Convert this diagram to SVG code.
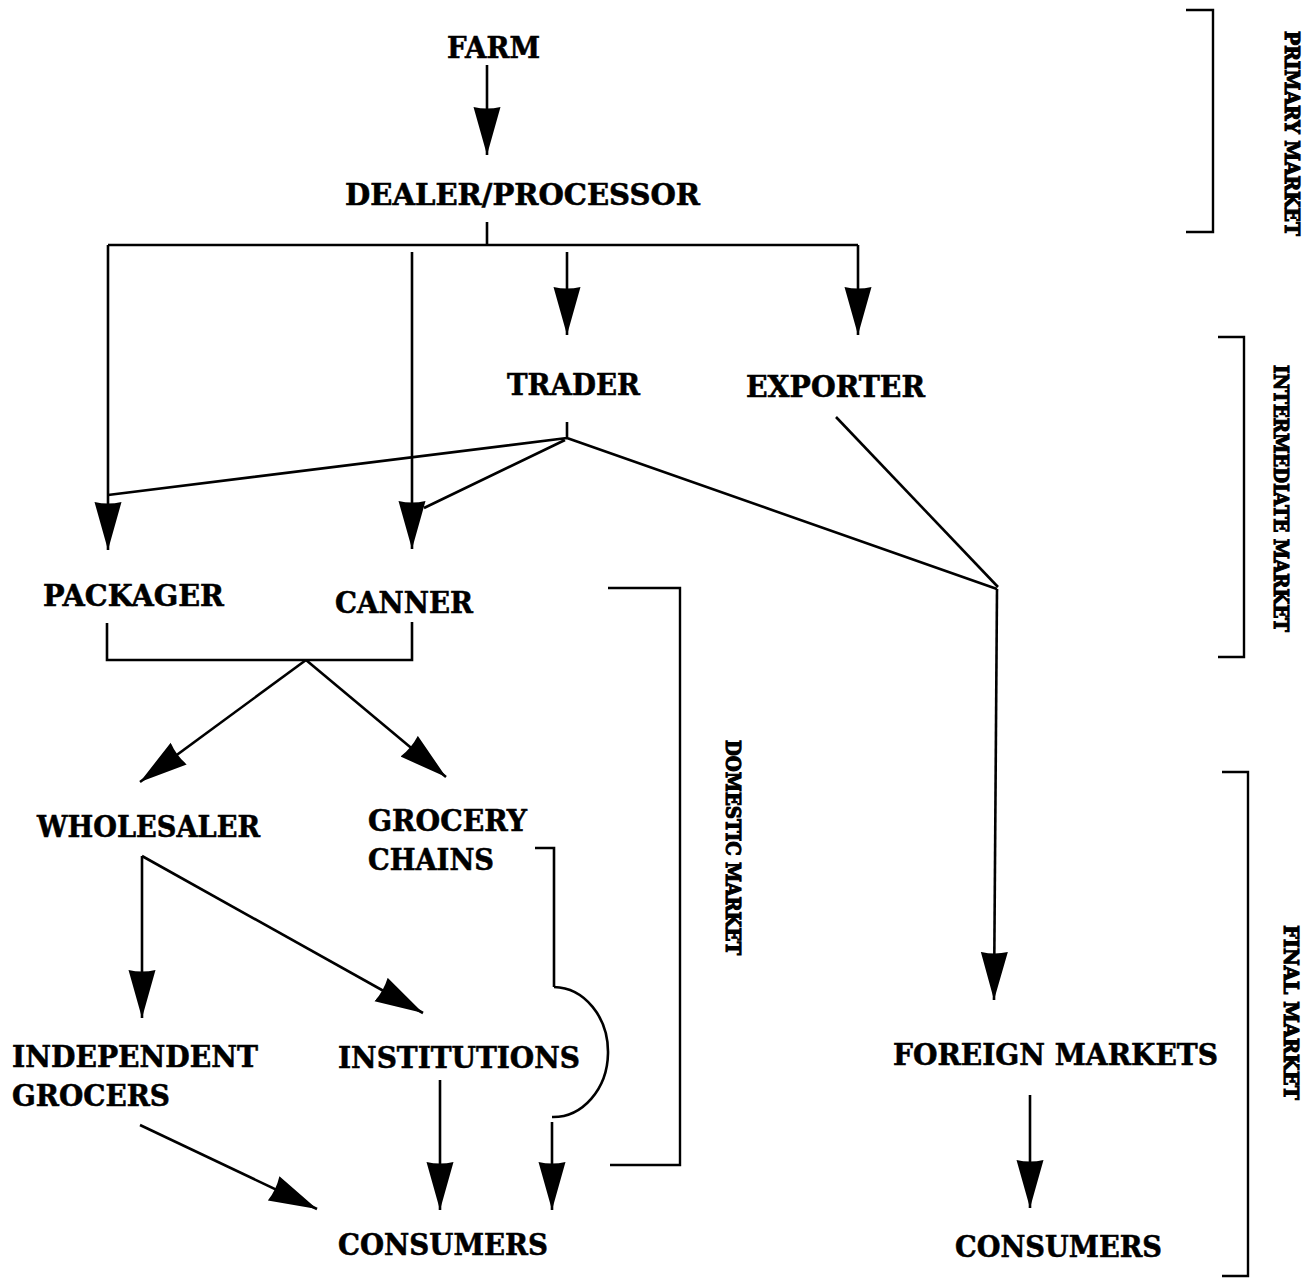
<svg xmlns="http://www.w3.org/2000/svg" width="1309" height="1282" viewBox="0 0 1309 1282">
<style>
.t{font-family:"DejaVu Serif","Liberation Serif",serif;font-weight:bold;font-size:30px;fill:#000;stroke:#000;stroke-width:0.6}
.s{font-family:"DejaVu Serif","Liberation Serif",serif;font-weight:bold;font-size:20px;fill:#000;stroke:#000;stroke-width:1.1}
.l{fill:none;stroke:#000;stroke-width:2.6;stroke-linejoin:miter}
.a{fill:none;stroke:#000;stroke-width:2.6;marker-end:url(#ah)}
.b{fill:none;stroke:#000;stroke-width:2.4}
</style>
<defs>
<marker id="ah" markerUnits="userSpaceOnUse" markerWidth="54" markerHeight="30" refX="48" refY="14" orient="auto" viewBox="0 0 54 30">
<path d="M0,0.5 L48,14 L0,27.5 Q3,14 0,0.5 Z" fill="#000"/>
</marker>
</defs>
<rect width="1309" height="1282" fill="#fff"/>
<g id="connectors">
<path class="a" d="M487,65 L487,155"/>
<path class="l" d="M487,222 L487,245 M108,245 L858,245"/>
<path class="a" d="M108,245 L108,550"/>
<path class="a" d="M412,252 L412,549"/>
<path class="a" d="M567,252 L567,335"/>
<path class="a" d="M858,245 L858,335"/>
<path class="l" d="M567,422 L567,438 M567,438 L108,495 M565,440 L424,508 M567,438 L997,589"/>
<path class="l" d="M836,417 L998,587"/>
<path class="a" d="M997,589 L994,1000"/>
<path class="l" d="M107,623 L107,660 L412,660 L412,622"/>
<path class="a" d="M306,660 L140,782"/>
<path class="a" d="M306,660 L446,777"/>
<path class="a" d="M142,856 L142,1018"/>
<path class="a" d="M142,856 L423,1013"/>
<path class="l" d="M535,848 L554,848 L554,987"/>
<path class="l" d="M554,987 A55,65 0 0 1 552,1117"/>
<path class="a" d="M552,1122 L552,1210"/>
<path class="a" d="M440,1080 L440,1210"/>
<path class="a" d="M140,1125 L317,1209"/>
<path class="a" d="M1030,1095 L1030,1208"/>
</g>
<g id="brackets">
<path class="b" d="M1186,10 L1213,10 L1213,232 L1186,232"/>
<path class="b" d="M1218,337 L1244,337 L1244,657 L1218,657"/>
<path class="b" d="M1222,772 L1248,772 L1248,1276 L1222,1276"/>
<path class="b" d="M608,588 L680,588 L680,1165 L610,1165"/>
</g>
<g id="farm"><text class="t" x="447" y="58" textLength="93" lengthAdjust="spacingAndGlyphs">FARM</text></g>
<g id="dealer"><text class="t" x="345" y="205" textLength="355" lengthAdjust="spacingAndGlyphs">DEALER/PROCESSOR</text></g>
<g id="trader"><text class="t" x="507" y="395" textLength="133" lengthAdjust="spacingAndGlyphs">TRADER</text></g>
<g id="exporter"><text class="t" x="746" y="397" textLength="179" lengthAdjust="spacingAndGlyphs">EXPORTER</text></g>
<g id="packager"><text class="t" x="43" y="606" textLength="181" lengthAdjust="spacingAndGlyphs">PACKAGER</text></g>
<g id="canner"><text class="t" x="335" y="613" textLength="138" lengthAdjust="spacingAndGlyphs">CANNER</text></g>
<g id="wholesaler"><text class="t" x="37" y="837" textLength="223" lengthAdjust="spacingAndGlyphs">WHOLESALER</text></g>
<g id="grocery-chains"><text class="t" x="368" y="831" textLength="159" lengthAdjust="spacingAndGlyphs">GROCERY</text><text class="t" x="368" y="870" textLength="126" lengthAdjust="spacingAndGlyphs">CHAINS</text></g>
<g id="independent-grocers"><text class="t" x="12" y="1067" textLength="246" lengthAdjust="spacingAndGlyphs">INDEPENDENT</text><text class="t" x="12" y="1106" textLength="158" lengthAdjust="spacingAndGlyphs">GROCERS</text></g>
<g id="institutions"><text class="t" x="338" y="1068" textLength="242" lengthAdjust="spacingAndGlyphs">INSTITUTIONS</text></g>
<g id="foreign-markets"><text class="t" x="893" y="1065" textLength="325" lengthAdjust="spacingAndGlyphs">FOREIGN MARKETS</text></g>
<g id="consumers-domestic"><text class="t" x="338" y="1255" textLength="210" lengthAdjust="spacingAndGlyphs">CONSUMERS</text></g>
<g id="consumers-foreign"><text class="t" x="955" y="1257" textLength="207" lengthAdjust="spacingAndGlyphs">CONSUMERS</text></g>
<g id="primary-market"><text class="s" transform="translate(1285,133) rotate(90)" x="-102" y="0" textLength="205" lengthAdjust="spacingAndGlyphs">PRIMARY MARKET</text></g>
<g id="intermediate-market"><text class="s" transform="translate(1274,498) rotate(90)" x="-133" y="0" textLength="267" lengthAdjust="spacingAndGlyphs">INTERMEDIATE MARKET</text></g>
<g id="final-market"><text class="s" transform="translate(1284,1012) rotate(90)" x="-87" y="0" textLength="175" lengthAdjust="spacingAndGlyphs">FINAL MARKET</text></g>
<g id="domestic-market"><text class="s" transform="translate(726,847) rotate(90)" x="-107" y="0" textLength="215" lengthAdjust="spacingAndGlyphs">DOMESTIC MARKET</text></g>
</svg>
